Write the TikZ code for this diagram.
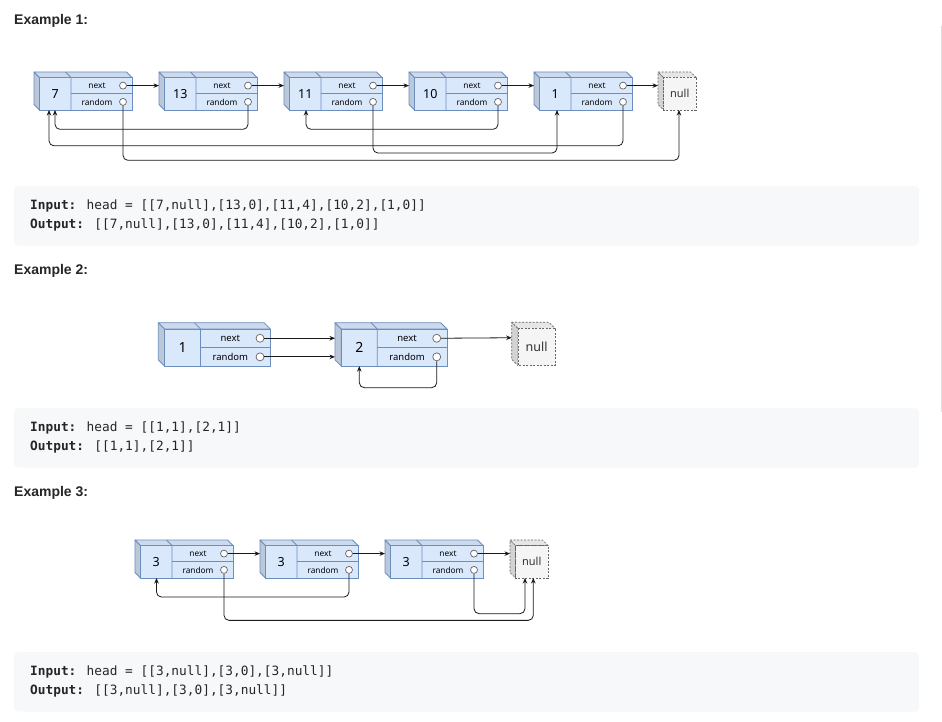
\documentclass[tikz,border=0pt]{standalone}
\usepackage{fontspec}
\usetikzlibrary{arrows.meta,calc}
\newfontfamily\headfont{Liberation Sans}
\newfontfamily\codefont{DejaVu Sans Mono}
\newfontfamily\boxfont{Noto Sans}

\definecolor{inkdark}{HTML}{262626}
\definecolor{codebg}{HTML}{F7F8FA}
\definecolor{cubefill}{HTML}{DAE8FC}
\definecolor{cubestroke}{HTML}{6C8EBF}
\definecolor{nullfill}{HTML}{F5F5F5}
\definecolor{nullstroke}{HTML}{666666}

\tikzset{
  head/.style={anchor=west, inner sep=0pt, text=inkdark, font=\headfont\bfseries\fontsize{14}{16}\selectfont},
  code/.style={anchor=west, inner sep=0pt, text=inkdark, font=\codefont\fontsize{12.8}{15}\selectfont},
  codebox/.style={fill=codebg, rounded corners=4pt},
  sideline/.style={draw=black!12, line width=1pt},
  cubeline/.style={draw=cubestroke, line width=0.8pt},
  cubefront/.style={fill=cubefill, draw=cubestroke, line width=0.8pt},
  cubetop/.style={fill=cubefill!94!black, draw=cubestroke, line width=0.8pt, line join=round},
  cubeside/.style={fill=cubefill!86!black, draw=cubestroke, line width=0.8pt, line join=round},
  nullfront/.style={fill=nullfill, draw=nullstroke, line width=0.7pt, dash pattern=on 2pt off 1.5pt},
  nulltop/.style={fill=nullfill!94!black, draw=nullstroke, line width=0.7pt, dash pattern=on 2pt off 1.5pt},
  nullside/.style={fill=nullfill!86!black, draw=nullstroke, line width=0.7pt, dash pattern=on 2pt off 1.5pt},
  valtxt/.style={inner sep=0pt, text=black, font=\boxfont\fontsize{12.5}{13}\selectfont},
  fldtxt/.style={inner sep=0pt, text=black, font=\boxfont\fontsize{8.3}{9}\selectfont},
  nulltxt/.style={inner sep=0pt, text=black!80, font=\boxfont\fontsize{11}{11}\selectfont},
  port/.style={circle, draw=black!60, fill=white, line width=0.7pt, minimum size=7pt, inner sep=0pt, transform shape},
  link/.style={draw=black!90, line width=0.8pt, -{Stealth[length=5.5pt,width=4.5pt]}},
  rnd/.style={link, rounded corners=5pt},
  % one list element: value cell plus next/random fields, drawn as a box with depth
  pics/llnode/.style={code={
    \filldraw[cubeside] (0,0) -- (5.5,5.5) -- (5.5,38) -- (0,32.5) -- cycle;
    \filldraw[cubetop] (0,0) -- (92.5,0) -- (98,5.5) -- (5.5,5.5) -- cycle;
    \filldraw[cubefront] (5.5,5.5) rectangle (98,38);
    \draw[cubeline] (31.5,0) -- (37,5.5) -- (37,38);
    \draw[cubeline] (37,21.75) -- (98,21.75);
    \node[valtxt] (-v) at (21.25,21.75) {#1};
    \node[fldtxt] (-tn) at (63,13.6) {next};
    \node[fldtxt] (-tr) at (63,29.9) {random};
    \node[port] (-n) at (89,13.6) {};
    \node[port] (-r) at (89,29.9) {};
    \coordinate (-in) at (0,13.6);
    \coordinate (-in2) at (0,29.9);
    \coordinate (-bot) at (5.5,38);
  }},
  % the terminating null element, dashed
  pics/nullbox/.style={code={
    \filldraw[nullside] (0,0) -- (5.5,5.5) -- (5.5,38) -- (0,32.5) -- cycle;
    \filldraw[nulltop] (0,0) -- (32.5,0) -- (38,5.5) -- (5.5,5.5) -- cycle;
    \filldraw[nullfront] (5.5,5.5) rectangle (38,38);
    \node[nulltxt] (-t) at (21.75,21.75) {null};
    \coordinate (-in) at (0,13.6);
    \coordinate (-bot) at (5.5,38);
  }},
}

\begin{document}
\begin{tikzpicture}[x=1pt,y=-1pt]
\fill[white] (0,0) rectangle (942,722);
\useasboundingbox (0,0) rectangle (942,722);

\draw[sideline] (941,26) -- (941,412);

% ---------- Example 1 ----------
\node[head] (h1) at (14,20.5) {Example 1:};

\pic (a1) at (34,72) {llnode=7};
\pic (a2) at (159,72) {llnode=13};
\pic (a3) at (284,72) {llnode=11};
\pic (a4) at (409,72) {llnode=10};
\pic (a5) at (534,72) {llnode=1};
\pic (n1) at (658,72) {nullbox};

\draw[link] (a1-n.east) -- (a2-in);
\draw[link] (a2-n.east) -- (a3-in);
\draw[link] (a3-n.east) -- (a4-in);
\draw[link] (a4-n.east) -- (a5-in);
\draw[link] (a5-n.east) -- (n1-in);

\draw[rnd] (a2-r.south) -- ++(0,23.6) -| ([xshift=15.5pt]a1-bot);
\draw[rnd] (a4-r.south) -- ++(0,23.6) -| ([xshift=16.5pt]a3-bot);
\draw[rnd] (a5-r.south) -- ++(0,40.1) -| ([xshift=9.5pt]a1-bot);
\draw[rnd] (a3-r.south) -- ++(0,47.3) -| ([xshift=17.5pt]a5-bot);
\draw[rnd] (a1-r.south) -- ++(0,54.6) -| ([xshift=15.5pt]n1-bot);

\fill[codebox] (14,186) rectangle (919,245.5);
\node[code] (i1) at (30,205.5) {\textbf{Input:} head = [[7,null],[13,0],[11,4],[10,2],[1,0]]};
\node[code] (o1) at (30,225) {\textbf{Output:} [[7,null],[13,0],[11,4],[10,2],[1,0]]};

% ---------- Example 2 ----------
\node[head] (h2) at (14,270.5) {Example 2:};

\begin{scope}[valtxt/.style={inner sep=0pt, text=black, font=\boxfont\fontsize{14}{14}\selectfont},
              fldtxt/.style={inner sep=0pt, text=black, font=\boxfont\fontsize{9.5}{10}\selectfont},
              nulltxt/.style={inner sep=0pt, text=black!80, font=\boxfont\fontsize{12.5}{13}\selectfont}]
\pic[scale=1.143] (b1) at (158.3,322.7) {llnode=1};
\pic[scale=1.143] (b2) at (335,322.7) {llnode=2};
\pic[scale=1.143] (n2) at (511.7,322.2) {nullbox};
\end{scope}

\draw[link] (b1-n.east) -- (b2-in);
\draw[link] (b1-r.east) -- (b2-in2);
\draw[link] (b2-n.east) -- (n2-in);
\draw[rnd] (b2-r.south) -- ++(0,26.4) -| ([xshift=18pt]b2-bot);

\fill[codebox] (14,408) rectangle (919,467.5);
\node[code] (i2) at (30,427.5) {\textbf{Input:} head = [[1,1],[2,1]]};
\node[code] (o2) at (30,447) {\textbf{Output:} [[1,1],[2,1]]};

% ---------- Example 3 ----------
\node[head] (h3) at (14,493) {Example 3:};

\pic (c1) at (135,540) {llnode=3};
\pic (c2) at (260,540) {llnode=3};
\pic (c3) at (385,540) {llnode=3};
\pic (n3) at (510,540) {nullbox};

\draw[link] (c1-n.east) -- (c2-in);
\draw[link] (c2-n.east) -- (c3-in);
\draw[link] (c3-n.east) -- (n3-in);

\draw[rnd] (c2-r.south) -- ++(0,23.3) -| ([xshift=16pt]c1-bot);
\draw[rnd] (c3-r.south) -- ++(0,39.9) -| ([xshift=9.5pt]n3-bot);
\draw[rnd] (c1-r.south) -- ++(0,46.6) -| ([xshift=17.8pt]n3-bot);

\fill[codebox] (14,652) rectangle (919,711.5);
\node[code] (i3) at (30,671.5) {\textbf{Input:} head = [[3,null],[3,0],[3,null]]};
\node[code] (o3) at (30,691) {\textbf{Output:} [[3,null],[3,0],[3,null]]};
\end{tikzpicture}
\end{document}
